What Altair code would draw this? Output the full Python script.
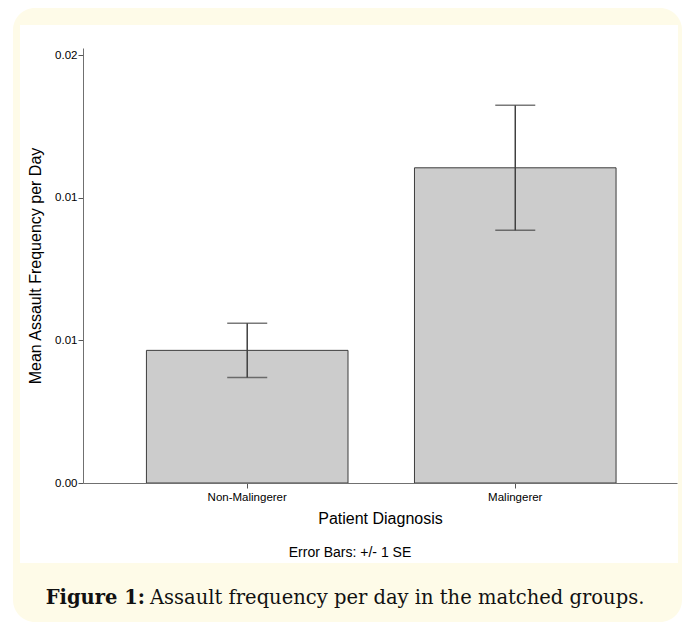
import altair as alt
import pandas as pd

# ---- data ----
categories = ["Non-Malingerer", "Malingerer"]
means = [0.00465, 0.01105]
se = [0.00095, 0.00219]
y_ticks = [0.0, 0.005, 0.01, 0.015]
y_tick_labels = ["0.00", "0.01", "0.01", "0.02"]

y_title = "Mean Assault Frequency per Day"
x_title = "Patient Diagnosis"
note_text = "Error Bars: +/- 1 SE"
caption_bold = "Figure 1:"
caption_rest = "Assault frequency per day in the matched groups."

df = pd.DataFrame({"diag": categories, "mean": means, "se": se})
df["lo"] = df["mean"] - df["se"]
df["hi"] = df["mean"] + df["se"]

W, H = 594, 435
SANS = "Liberation Sans"
SERIF = "DejaVu Serif"

step = y_ticks[1] - y_ticks[0]
label_expr = "[" + ",".join(f"'{s}'" for s in y_tick_labels) + f"][round(datum.value / {step})]"

x_scale = alt.Scale(paddingInner=0.248, paddingOuter=0.232, align=0.51)
y_scale = alt.Scale(domain=[0, 0.01525], nice=False, zero=True)

x_axis = alt.Axis(
    labelAngle=0, tickSize=5, labelPadding=3, labelFont=SANS, labelFontSize=11.5,
    labelColor="black", titleFont=SANS, titleFontSize=16, titleFontWeight="normal",
    titleColor="black", titlePadding=8, domainColor="#707070", tickColor="#555555",
    grid=False, zindex=1,
)
y_axis = alt.Axis(
    values=y_ticks, labelExpr=label_expr, tickSize=5, labelPadding=1, labelFont=SANS,
    labelFontSize=11.5, labelColor="black", titleFont=SANS, titleFontSize=16,
    titleFontWeight="normal", titleColor="black", titlePadding=11,
    domainColor="#707070", tickColor="#555555", grid=False, zindex=1,
)

x_enc = alt.X("diag:N", sort=categories, scale=x_scale, axis=x_axis, title=x_title)

base = alt.Chart(df)

bars = base.mark_bar(fill="#cccccc", stroke="#3d3d3d", strokeWidth=1).encode(
    x=x_enc,
    y=alt.Y("mean:Q", scale=y_scale, axis=y_axis, title=y_title),
)
err = base.mark_rule(color="#404040", strokeWidth=1.5).encode(
    x=x_enc,
    y=alt.Y("lo:Q", scale=y_scale, axis=y_axis, title=y_title),
    y2="hi:Q",
)
cap_lo = base.mark_tick(color="#404040", size=40, thickness=1.5).encode(
    x=x_enc, y=alt.Y("lo:Q", scale=y_scale, axis=y_axis, title=y_title)
)
cap_hi = base.mark_tick(color="#404040", size=40, thickness=1.5).encode(
    x=x_enc, y=alt.Y("hi:Q", scale=y_scale, axis=y_axis, title=y_title)
)

one = pd.DataFrame({"k": [0]})
cream = alt.Chart(one).mark_rect(color="#fefbe8", cornerRadius=22).encode(
    x=alt.value(-70), x2=alt.value(599), y=alt.value(-40), y2=alt.value(574)
)
white = alt.Chart(one).mark_rect(color="#ffffff").encode(
    x=alt.value(-63), x2=alt.value(595), y=alt.value(-23), y2=alt.value(515)
)
note = alt.Chart(one).mark_text(
    text=note_text, font=SANS, fontSize=14, align="center", baseline="middle", color="black"
).encode(x=alt.value(267), y=alt.value(505))
cap1 = alt.Chart(one).mark_text(
    text=caption_bold, font=SERIF, fontSize=19.5, fontWeight="bold", align="right",
    baseline="alphabetic", color="#111111"
).encode(x=alt.value(62), y=alt.value(556))
cap2 = alt.Chart(one).mark_text(
    text=caption_rest, font=SERIF, fontSize=19.5, align="left",
    baseline="alphabetic", color="#111111"
).encode(x=alt.value(67), y=alt.value(556))

chart = alt.layer(cream, white, bars, err, cap_lo, cap_hi, note, cap1, cap2).properties(
    width=W, height=H, padding={"left": 5, "top": 0, "right": 0, "bottom": 0},
    background="white",
).configure_view(stroke=None)

chart.save("out.html", embed_options={"renderer": "svg", "actions": False})
